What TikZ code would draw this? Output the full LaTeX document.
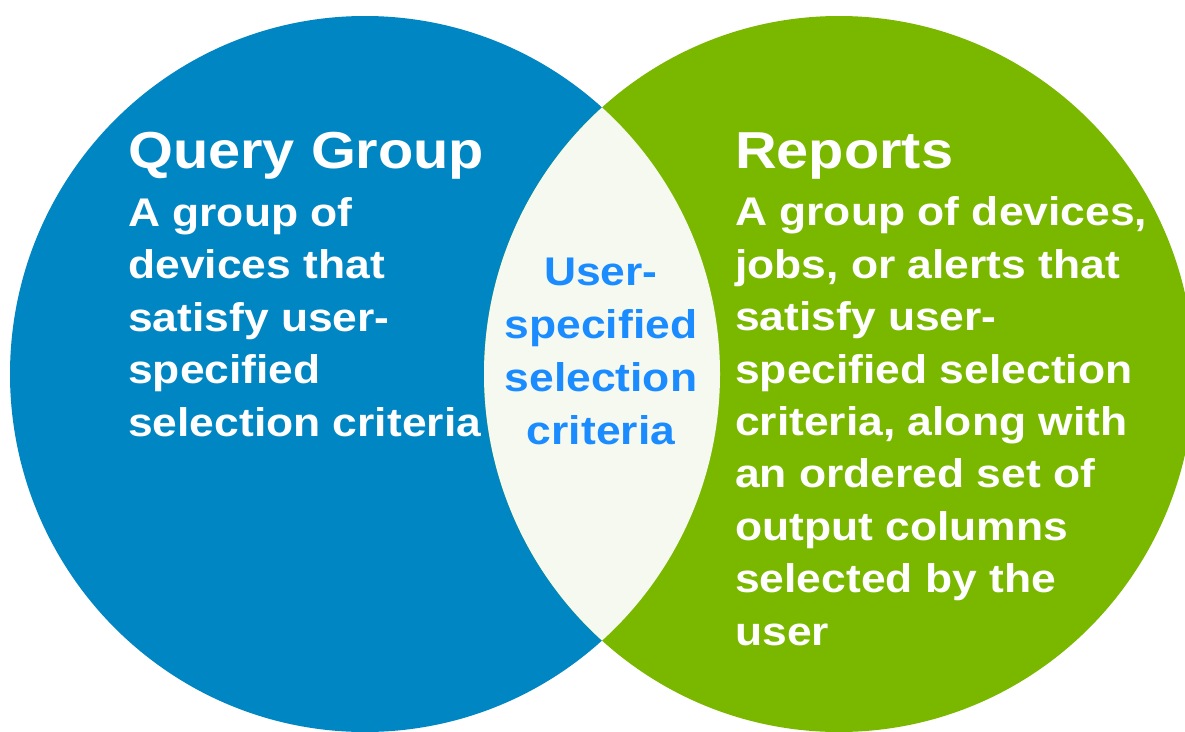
\documentclass[tikz,border=0pt]{standalone}
\usepackage{fontspec}
\setmainfont[FakeStretch=1.11]{Liberation Sans}
\definecolor{qblue}{HTML}{0086C3}
\definecolor{rgreen}{HTML}{7AB800}
\definecolor{lensfill}{HTML}{F5F9F0}
\definecolor{ctext}{HTML}{1A8CFF}
\tikzset{
  title/.style={text=white, font=\bfseries\fontsize{52}{58}\selectfont, inner sep=0pt, anchor=base west},
  body/.style={text=white, font=\bfseries\fontsize{40}{52.4}\selectfont, inner sep=0pt, anchor=base west, align=left},
  center/.style={text=ctext, font=\bfseries\fontsize{40}{53}\selectfont, inner sep=0pt, anchor=base, align=center},
}
\begin{document}
\begin{tikzpicture}[x=1pt,y=-1pt]
\useasboundingbox (0,0) rectangle (1185,731);
\fill[white] (0,0) rectangle (1185,731);
\fill[qblue] (365,374) ellipse[x radius=355, y radius=358];
\fill[rgreen] (839,374) ellipse[x radius=355, y radius=358];
\begin{scope}
  \clip (365,374) ellipse[x radius=355, y radius=358];
  \fill[lensfill] (839,374) ellipse[x radius=355, y radius=358];
\end{scope}
% multi-line nodes are placed by the baseline of their last line
\node[title] (qt) at (128,168) {Query Group};
\node[body] (qb) at (128,436) {A group of\\devices that\\satisfy user-\\specified\\selection criteria};
\node[title] (rt) at (735,168) {Reports};
\node[body] (rb) at (735,645) {A group of devices,\\jobs, or alerts that\\satisfy user-\\specified selection\\criteria, along with\\an ordered set of\\output columns\\selected by the\\user};
\node[center] (ct) at (601,444) {User-\\specified\\selection\\criteria};
\end{tikzpicture}
\end{document}
